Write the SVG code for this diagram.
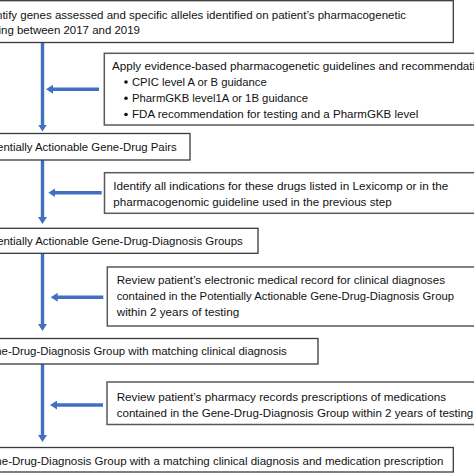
<svg xmlns="http://www.w3.org/2000/svg" width="474" height="474" viewBox="0 0 474 474">
<defs>
<style>
.box{fill:#ffffff;stroke:#3a3a3a;stroke-width:1.3}
.side{fill:#ffffff;stroke:#5a5a5a;stroke-width:1.5}
.t{font-family:"Liberation Sans",Arial,sans-serif;font-size:11.8px;fill:#111111}
.arr{stroke:#4170c2;stroke-width:3.4;fill:none}
.dot{fill:#111111}
</style>
<marker id="ah" markerUnits="userSpaceOnUse" markerWidth="8" markerHeight="9" refX="1" refY="4.5" orient="auto">
<path d="M0,0 L7,4.5 L0,9 z" fill="#4170c2"/>
</marker>
</defs>
<rect width="474" height="474" fill="#ffffff"/>

<g id="connectors">
<line class="arr" x1="42.5" y1="42.5" x2="42.5" y2="125.5" marker-end="url(#ah)"/>
<line class="arr" x1="42.5" y1="160" x2="42.5" y2="218" marker-end="url(#ah)"/>
<line class="arr" x1="42.5" y1="253.5" x2="42.5" y2="325" marker-end="url(#ah)"/>
<line class="arr" x1="42.5" y1="364" x2="42.5" y2="436" marker-end="url(#ah)"/>
<line class="arr" x1="99" y1="89.3" x2="52" y2="89.3" marker-end="url(#ah)"/>
<line class="arr" x1="101.7" y1="192.7" x2="54.3" y2="192.7" marker-end="url(#ah)"/>
<line class="arr" x1="103.3" y1="297.3" x2="56.7" y2="297.3" marker-end="url(#ah)"/>
<line class="arr" x1="103" y1="405" x2="56" y2="405" marker-end="url(#ah)"/>
</g>

<g id="n1">
<rect class="box" x="-30" y="0.7" width="483.3" height="41.8"/>
<text class="t" x="-20" y="18.5" textLength="426" lengthAdjust="spacingAndGlyphs">Identify genes assessed and specific alleles identified on patient’s pharmacogenetic</text>
<text class="t" x="-20" y="34" textLength="160" lengthAdjust="spacingAndGlyphs">testing between 2017 and 2019</text>
</g>

<g id="s1">
<rect class="side" x="104.3" y="53.3" width="400" height="71.7"/>
<text class="t" x="112" y="69.5" textLength="382" lengthAdjust="spacingAndGlyphs">Apply evidence-based pharmacogenetic guidelines and recommendations</text>
<circle class="dot" cx="126" cy="82" r="1.8"/>
<text class="t" x="132" y="85.8" textLength="134.7" lengthAdjust="spacingAndGlyphs">CPIC level A or B guidance</text>
<circle class="dot" cx="126" cy="98.2" r="1.8"/>
<text class="t" x="132" y="102" textLength="176" lengthAdjust="spacingAndGlyphs">PharmGKB level1A or 1B guidance</text>
<circle class="dot" cx="126" cy="114.5" r="1.8"/>
<text class="t" x="132" y="118.3" textLength="286.3" lengthAdjust="spacingAndGlyphs">FDA recommendation for testing and a PharmGKB level</text>
</g>

<g id="n2">
<rect class="box" x="-30" y="133.5" width="220" height="26.5"/>
<text class="t" x="-20" y="151" textLength="196.7" lengthAdjust="spacingAndGlyphs">Potentially Actionable Gene-Drug Pairs</text>
</g>

<g id="s2">
<rect class="side" x="104.5" y="172.7" width="400" height="40.6"/>
<text class="t" x="113.3" y="189.5" textLength="335" lengthAdjust="spacingAndGlyphs">Identify all indications for these drugs listed in Lexicomp or in the</text>
<text class="t" x="113.3" y="205.5" textLength="278.4" lengthAdjust="spacingAndGlyphs">pharmacogenomic guideline used in the previous step</text>
</g>

<g id="n3">
<rect class="box" x="-30" y="228.3" width="288" height="25"/>
<text class="t" x="-20" y="245" textLength="262.7" lengthAdjust="spacingAndGlyphs">Potentially Actionable Gene-Drug-Diagnosis Groups</text>
</g>

<g id="s3">
<rect class="side" x="107.3" y="267" width="400" height="59"/>
<text class="t" x="116.7" y="284" textLength="328.3" lengthAdjust="spacingAndGlyphs">Review patient’s electronic medical record for clinical diagnoses</text>
<text class="t" x="116.7" y="300" textLength="337.3" lengthAdjust="spacingAndGlyphs">contained in the Potentially Actionable Gene-Drug-Diagnosis Group</text>
<text class="t" x="116.7" y="316" textLength="122.6" lengthAdjust="spacingAndGlyphs">within 2 years of testing</text>
</g>

<g id="n4">
<rect class="box" x="-30" y="338.5" width="348" height="25.5"/>
<text class="t" x="-20" y="355" textLength="306.7" lengthAdjust="spacingAndGlyphs">Gene-Drug-Diagnosis Group with matching clinical diagnosis</text>
</g>

<g id="s4">
<rect class="side" x="107" y="382" width="400" height="42.5"/>
<text class="t" x="116.7" y="401" textLength="329.3" lengthAdjust="spacingAndGlyphs">Review patient’s pharmacy records prescriptions of medications</text>
<text class="t" x="116.7" y="417" textLength="356.6" lengthAdjust="spacingAndGlyphs">contained in the Gene-Drug-Diagnosis Group within 2 years of testing</text>
</g>

<g id="n5">
<rect class="box" x="-30" y="447.5" width="483.3" height="24.5"/>
<text class="t" x="-20" y="465" textLength="463.3" lengthAdjust="spacingAndGlyphs">Gene-Drug-Diagnosis Group with a matching clinical diagnosis and medication prescription</text>
</g>
</svg>
